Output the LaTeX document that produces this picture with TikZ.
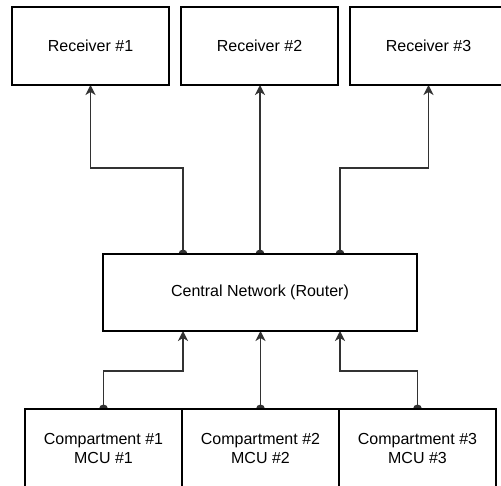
\documentclass[tikz,border=0pt]{standalone}
\usepackage{fontspec}
\setmainfont{Liberation Sans}
\usepackage{tikz}
\usetikzlibrary{arrows.meta}
\usetikzlibrary{positioning}
\usetikzlibrary{backgrounds}
\tikzset{>=Stealth}
\definecolor{wire}{RGB}{50,50,50}

\begin{document}
\begin{tikzpicture}[x=1pt, y=-1pt, node distance = 12pt,
    unit/.style={draw, line width=1.3pt, fill=white, outer sep=0pt, inner sep=0pt,
      minimum width=157pt, minimum height=78pt, align=center,
      font=\fontsize{16}{19}\selectfont},
    link/.style={-{Stealth[length=10pt,width=10pt,inset=3pt]}, draw=wire, line width=1.6pt}]
      \useasboundingbox (0,0) rectangle (501,486);
      \clip (0,0) rectangle (501,486);

      \node[unit] (r1) at (90.5,46) {Receiver \#1};
      \node[unit, right = of r1] (r2) {Receiver \#2};
      \node[unit, right = of r2] (r3) {Receiver \#3};

      \node[unit, minimum width=314pt, minimum height=77pt] (cn) at (260,292.5) {Central Network (Router)};

      \node[unit] (c1) at (103.5,448) {Compartment \#1\\MCU \#1};
      \node[unit, right = 0pt of c1] (c2) {Compartment \#2\\MCU \#2};
      \node[unit, right = 0pt of c2] (c3) {Compartment \#3\\MCU \#3};

      % ports on the router
      \coordinate (inl) at ([xshift=-77pt]cn.south);
      \coordinate (inr) at ([xshift=80pt]cn.south);
      \coordinate (outl) at ([xshift=-77pt]cn.north);
      \coordinate (outr) at ([xshift=80pt]cn.north);

      \begin{scope}[on background layer]
        \fill[white] (0,0) rectangle (501,486);

        \draw[link] (c1.north) -- ++(0,-38) -| (inl);
        \draw[link] (c2.north) -- (c2.north |- cn.south);
        \draw[link] (c3.north) -- ++(0,-38) -| (inr);

        \draw[link] (outl) -- ++(0,-86) -| (r1.south);
        \draw[link] (cn.north) -- (cn.north |- r2.south);
        \draw[link] (outr) -- ++(0,-86) -| (r3.south);

        \foreach \p in {c1.north, c2.north, c3.north, outl, cn.north, outr}
          \fill[wire] (\p) circle (4.5pt);
      \end{scope}
    \end{tikzpicture}
\end{document}
